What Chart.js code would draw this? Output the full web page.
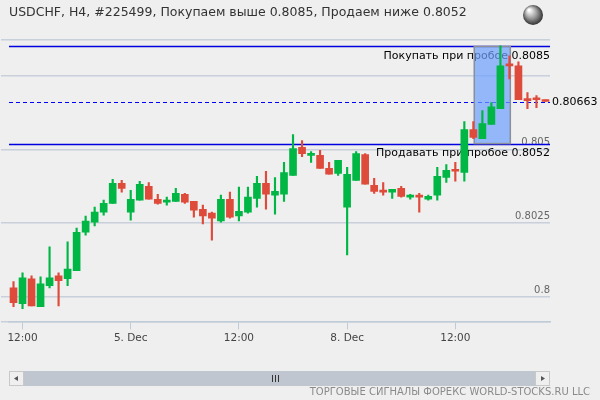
<!DOCTYPE html>
<html>
<head>
<meta charset="utf-8">
<script src="https://cdn.jsdelivr.net/npm/chart.js@4"></script>
<style>
  body { margin: 0; background: #efefef; }
  #wrap { width: 600px; height: 400px; }
</style>
</head>
<body>
<div id="wrap"><canvas id="myChart" width="600" height="400"></canvas></div>
<script>
// H4 candles, USDCHF
var labels = [];
for (var i = 0; i < 60; i++) labels.push('');
labels[1] = '12:00'; labels[13] = '5. Dec'; labels[25] = '12:00'; labels[37] = '8. Dec'; labels[49] = '12:00';

var opens  = [0.80030,0.79976,0.80061,0.79966,0.80037,0.80071,0.80061,0.80088,0.80219,0.80253,
              0.80287,0.80317,0.80385,0.80287,0.80328,0.80375,0.80331,0.80321,0.80324,0.80348,
              0.80324,0.80297,0.80284,0.80257,0.80331,0.80274,0.80287,0.80334,0.80385,0.80345,
              0.80348,0.80412,0.80507,0.80480,0.80480,0.80436,0.80419,0.80304,0.80395,0.80483,
              0.80378,0.80361,0.80355,0.80368,0.80338,0.80345,0.80331,0.80345,0.80405,0.80429,
              0.80422,0.80568,0.80537,0.80585,0.80639,0.80787,0.80784,0.80672,0.80672,0.80669];
var highs  = [0.80051,0.80081,0.80071,0.80067,0.80169,0.80081,0.80186,0.80233,0.80274,0.80304,
              0.80328,0.80399,0.80395,0.80361,0.80392,0.80388,0.80348,0.80338,0.80368,0.80351,
              0.80324,0.80311,0.80287,0.80345,0.80355,0.80372,0.80372,0.80409,0.80426,0.80405,
              0.80456,0.80551,0.80530,0.80493,0.80497,0.80456,0.80463,0.80439,0.80493,0.80486,
              0.80402,0.80388,0.80365,0.80375,0.80348,0.80351,0.80345,0.80439,0.80449,0.80456,
              0.80595,0.80595,0.80632,0.80659,0.80852,0.80818,0.80798,0.80693,0.80683,0.80669];
var lows   = [0.79966,0.79959,0.79969,0.79966,0.80030,0.79969,0.80037,0.80088,0.80209,0.80240,
              0.80277,0.80317,0.80355,0.80260,0.80328,0.80331,0.80314,0.80311,0.80324,0.80317,
              0.80270,0.80247,0.80192,0.80253,0.80267,0.80257,0.80284,0.80304,0.80297,0.80280,
              0.80324,0.80412,0.80476,0.80456,0.80436,0.80416,0.80412,0.80142,0.80395,0.80382,
              0.80351,0.80345,0.80334,0.80338,0.80331,0.80287,0.80328,0.80328,0.80388,0.80392,
              0.80392,0.80537,0.80537,0.80585,0.80639,0.80740,0.80669,0.80639,0.80642,0.80663];
var closes = [0.79980,0.80064,0.79969,0.80044,0.80064,0.80054,0.80094,0.80219,0.80257,0.80287,
              0.80317,0.80385,0.80368,0.80331,0.80382,0.80331,0.80317,0.80324,0.80351,0.80321,
              0.80294,0.80274,0.80267,0.80331,0.80270,0.80290,0.80338,0.80385,0.80348,0.80358,
              0.80422,0.80503,0.80486,0.80483,0.80436,0.80416,0.80463,0.80416,0.80486,0.80382,
              0.80358,0.80355,0.80365,0.80341,0.80345,0.80338,0.80341,0.80409,0.80429,0.80426,
              0.80568,0.80541,0.80588,0.80645,0.80784,0.80784,0.80669,0.80666,0.80669,0.80663];

var buyLevel = 0.8085;
var sellLevel = 0.8052;
var lastPrice = 0.80663;
var boxFrom = 51.1, boxTo = 55.1;

var green = '#00b745', red = '#de4b3b';
var colors = [];
var bodies = [], wicks = [];
for (var i = 0; i < opens.length; i++) {
	colors.push(closes[i] >= opens[i] ? green : red);
	bodies.push([opens[i], closes[i]]);
	wicks.push([lows[i], highs[i]]);
}

var overlay = {
	id: 'overlay',
	beforeDraw: function(chart) {
		var c = chart.ctx;
		c.save();
		c.fillStyle = '#efefef';
		c.fillRect(0, 0, chart.width, chart.height);
		c.restore();
	},
	beforeDatasetsDraw: function(chart) {
		var c = chart.ctx, x = chart.scales.x, y = chart.scales.y, a = chart.chartArea;
		c.save();
		// price labels on grid
		c.font = '10px "DejaVu Sans"';
		c.textAlign = 'right';
		c.fillStyle = '#666';
		[0.8, 0.8025, 0.805].forEach(function(v) {
			c.fillText(String(v), a.right, y.getPixelForValue(v) - 4);
		});
		// level lines
		c.strokeStyle = '#0000e0';
		c.lineWidth = 1.3;
		[buyLevel, sellLevel].forEach(function(v) {
			var py = Math.round(y.getPixelForValue(v)) + 0.5;
			c.beginPath(); c.moveTo(a.left, py); c.lineTo(a.right, py); c.stroke();
		});
		c.strokeStyle = '#0000ff';
		c.lineWidth = 1;
		c.setLineDash([4, 3]);
		var py = Math.round(y.getPixelForValue(lastPrice)) + 0.5;
		c.beginPath(); c.moveTo(a.left, py); c.lineTo(a.right, py); c.stroke();
		c.setLineDash([]);
		c.fillStyle = '#000';
		c.font = '11px "DejaVu Sans"';
		c.textBaseline = 'middle';
		c.fillText('Покупать при пробое 0.8085', a.right, y.getPixelForValue(buyLevel) + 10);
		c.fillText('Продавать при пробое 0.8052', a.right, y.getPixelForValue(sellLevel) + 10);
		c.textAlign = 'left';
		c.fillText('0.80663', a.right + 2, py);
		// breakout box
		var x0 = x.getPixelForValue(boxFrom), x1 = x.getPixelForValue(boxTo);
		var y0 = y.getPixelForValue(buyLevel), y1 = y.getPixelForValue(sellLevel);
		c.fillStyle = 'rgba(110,160,255,0.7)';
		c.fillRect(x0, y0, x1 - x0, y1 - y0);
		c.strokeStyle = '#8a8f99';
		c.lineWidth = 1.5;
		c.strokeRect(x0, y0, x1 - x0, y1 - y0);
		c.restore();
	},
	afterDraw: function(chart) {
		var c = chart.ctx, a = chart.chartArea;
		c.save();
		c.fillStyle = '#333';
		c.font = '12.5px "DejaVu Sans"';
		c.textBaseline = 'middle';
		c.fillText('USDCHF, H4, #225499, Покупаем выше 0.8085, Продаем ниже 0.8052', 9, 13);
		// globe
		var g = c.createRadialGradient(529, 10, 1, 533, 15, 11);
		g.addColorStop(0, '#ffffff'); g.addColorStop(0.5, '#999'); g.addColorStop(1, '#222');
		c.fillStyle = g;
		c.beginPath(); c.arc(533, 15, 10, 0, Math.PI * 2); c.fill();
		// scrollbar
		c.fillStyle = '#bfc6cf';
		c.fillRect(a.left, 371, a.right - a.left, 15);
		c.fillStyle = '#efefef';
		c.strokeStyle = '#c8c8c8';
		c.fillRect(a.left, 371, 14, 15); c.strokeRect(a.left + 0.5, 371.5, 14, 14);
		c.fillRect(a.right - 14, 371, 14, 15); c.strokeRect(a.right - 14.5, 371.5, 14, 14);
		c.fillStyle = '#555';
		c.beginPath(); c.moveTo(a.left + 5, 378.5); c.lineTo(a.left + 9, 376); c.lineTo(a.left + 9, 381); c.fill();
		c.beginPath(); c.moveTo(a.right - 5, 378.5); c.lineTo(a.right - 9, 376); c.lineTo(a.right - 9, 381); c.fill();
		c.fillStyle = '#333';
		for (var k = 0; k < 3; k++) c.fillRect(272 + k * 3, 375, 1, 7);
		c.fillStyle = '#8a8a8a';
		c.font = '10px "DejaVu Sans"';
		c.textAlign = 'right';
		c.fillText('ТОРГОВЫЕ СИГНАЛЫ ФОРЕКС WORLD-STOCKS.RU LLC', 590, 392);
		c.restore();
	}
};

var ctx = document.getElementById('myChart').getContext('2d');
var myChart = new Chart(ctx, {
	type: 'bar',
	data: {
		labels: labels,
		datasets: [
			{ data: wicks, backgroundColor: colors, barThickness: 1.5, grouped: false, order: 2 },
			{ data: bodies, backgroundColor: colors, barThickness: 7, minBarLength: 2, grouped: false, order: 1 }
		]
	},
	plugins: [overlay],
	options: {
		responsive: false,
		animation: false,
		layout: { padding: { left: 9, right: 50, top: 40, bottom: 52 } },
		plugins: { legend: { display: false }, tooltip: { enabled: false } },
		scales: {
			x: {
				afterBuildTicks: function(scale) {
					scale.ticks = scale.ticks.filter(function(t) { return labels[t.value] !== ''; });
				},
				grid: { drawOnChartArea: false, offset: false, color: '#c0cbd8', tickLength: 8 },
				border: { color: '#c0cbd8', width: 1.5 },
				ticks: { autoSkip: false, maxRotation: 0, color: '#444', font: { family: 'DejaVu Sans', size: 10.5 } }
			},
			y: {
				min: 0.79916, max: 0.80872,
				afterFit: function(scale) { scale.width = 0; },
				ticks: { display: false, stepSize: 0.0025 },
				border: { display: false },
				grid: { color: '#c8d0dc', lineWidth: 1.5 }
			}
		}
	}
});
</script>
</body>
</html>
